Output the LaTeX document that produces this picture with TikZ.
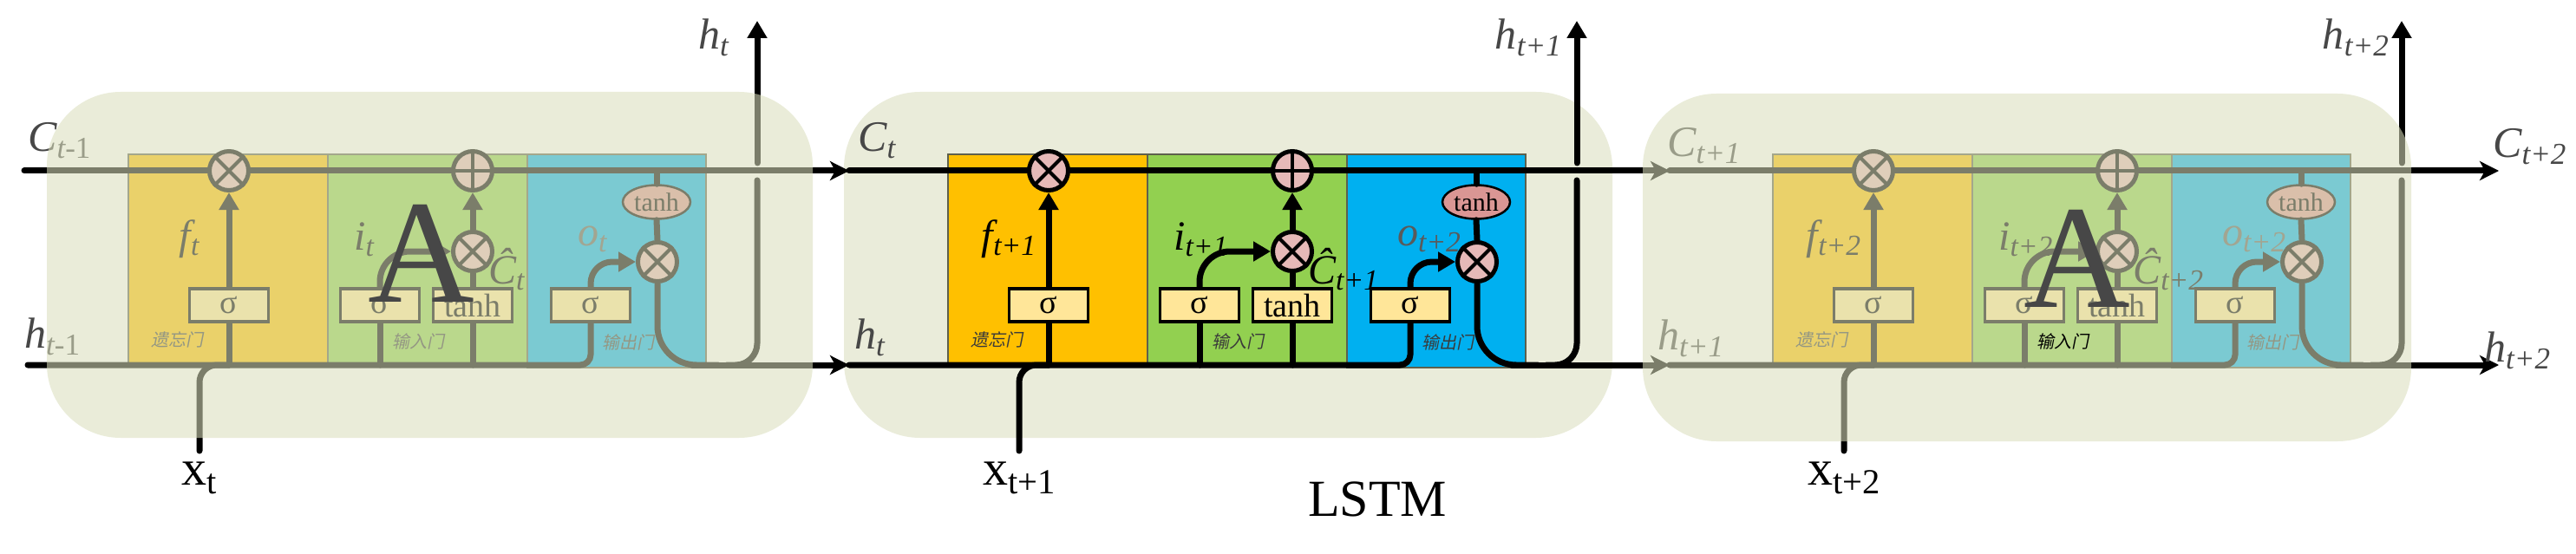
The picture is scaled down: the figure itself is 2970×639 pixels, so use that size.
\documentclass[tikz,border=0pt]{standalone}
\usepackage{fontspec}
\setmainfont{Liberation Serif}
\newfontfamily\cjk[FakeSlant=0.2]{Noto Sans CJK SC}
\usetikzlibrary{positioning,arrows.meta,shapes.geometric}

\definecolor{forgetc}{HTML}{FFC000}
\definecolor{inputc}{HTML}{92D050}
\definecolor{outputc}{HTML}{00B0F0}
\definecolor{boxc}{HTML}{FFE699}
\definecolor{opc}{HTML}{E6B9B8}
\definecolor{actc}{HTML}{DA9694}
\definecolor{panelc}{HTML}{EAECDA}
\definecolor{fogc}{HTML}{DADFBC}
\definecolor{labc}{HTML}{474747}
\definecolor{ocolc}{HTML}{5A5A5A}
\definecolor{gnamec}{HTML}{3A3A3A}
\definecolor{edgec}{HTML}{5E604C}

\newcommand{\lsub}[1]{\raisebox{-0.16em}{\scalebox{0.7}{#1}}}

% one LSTM cell: prefix, x shift, f/i/C/o subscripts, input gate name, in/out index
\newcommand{\lstmcell}[9]{%
  \begin{scope}[shift={(#2,0)}]
    \draw[gate, fill=forgetc] (0,178) rectangle (230,421);
    \draw[gate, fill=inputc] (230,178) rectangle (460,421);
    \draw[gate, fill=outputc] (460,178) rectangle (666,424);
    \draw[line, stip] (c#8) -- (c#9);
    \coordinate (#1hb) at (0,421);
    \coordinate (#1xb) at (82,520);
    \node[op] (#1fx) at (116,197) {};
    \node[op] (#1add) at (397,197) {};
    \node[op] (#1ix) at (397,290) {};
    \node[op] (#1ox) at (610,302) {};
    \node[act] (#1th) at (609,233) {tanh};
    \node[sbox] (#1fs) at (116,352) {σ};
    \node[sbox] (#1is) at (290,352) {σ};
    \node[sbox] (#1ts) at (397,352) {tanh};
    \node[sbox] (#1os) at (533,352) {σ};
    \draw[cross] (#1fx.45) -- (#1fx.225) (#1fx.135) -- (#1fx.-45);
    \draw[cross] (#1ix.45) -- (#1ix.225) (#1ix.135) -- (#1ix.-45);
    \draw[cross] (#1ox.45) -- (#1ox.225) (#1ox.135) -- (#1ox.-45);
    \draw[cross] (#1add.north) -- (#1add.south) (#1add.east) -- (#1add.west);
    % hidden state in, input x
    \draw[line, rounded corners=12] (h#8) -| (#1os.south);
    \draw[line, rounded corners=20] (#1xb) |- (#1fs.south |- #1hb);
    \draw[line] (#1fs.south) -- (#1fs.south |- #1hb);
    \draw[line] (#1is.south) -- (#1is.south |- #1hb);
    \draw[line] (#1ts.south) -- (#1ts.south |- #1hb);
    % gates
    \draw[line, tip] (#1fs.north) -- (#1fx.south);
    \draw[line] (#1ts.north) -- (#1ix.south);
    \draw[line, tip] (#1ix.north) -- (#1add.south);
    \draw[line, tip, rounded corners=35] (#1is.north) |- (#1ix.west);
    \draw[line, tip, rounded corners=25] (#1os.north) |- (#1ox.west);
    \draw[line] (#1th.north) -- (#1th.north |- #1add);
    \draw[line] (#1th.south) -- (#1ox.north);
    % output
    \draw[line, rounded corners=45] (#1ox.south) |- (680,421);
    \draw[line, stip] (650,421) -- (h#9);
    \draw[line, rounded corners=25] (690,421) -| (725,208);
    \coordinate (#1up) at (725,24);
    \draw[line, tip] (725,188) -- (#1up);
    % labels
    \node[glbl, anchor=base] (#1fl) at (70,287) {f\lsub{#3}};
    \node[glbl, anchor=base west] (#1il) at (260,288) {i\lsub{#4}};
    \node[glbl, anchor=base west] (#1cl) at (415,327) {Ĉ\lsub{#5}};
    \node[glbl, text=ocolc, anchor=base west] (#1ol) at (518,283) {o\lsub{#6}};
    \node[gname] (#1g1) at (56,392) {遗忘门};
    \node[gname] (#1g2) at (334,394) {#7};
    \node[gname] (#1g3) at (576,395) {输出门};
  \end{scope}}

\begin{document}
\begin{tikzpicture}[x=1pt, y=-1pt, line cap=round,
    line/.style={line width=7pt},
    cross/.style={line width=4pt, line cap=butt},
    tip/.style={-{Triangle[length=20pt,width=22pt]}},
    stip/.style={-{Stealth[length=22pt,width=22pt,inset=6pt]}},
    gate/.style={draw=edgec, line width=1.2pt},
    sbox/.style={draw, line width=3.5pt, fill=boxc, minimum width=91pt,
                 minimum height=38pt, inner sep=0, font=\fontsize{38}{38}\selectfont},
    op/.style={circle, draw, line width=5pt, fill=opc, minimum size=45pt, inner sep=0},
    act/.style={ellipse, draw, line width=2.5pt, fill=actc, minimum width=78pt,
                minimum height=39pt, inner sep=0, font=\fontsize{30}{30}\selectfont},
    glbl/.style={font=\fontsize{48}{48}\selectfont\itshape, inner sep=0},
    gname/.style={font=\fontsize{20}{20}\cjk, text=gnamec, inner sep=0},
    vlbl/.style={font=\fontsize{50}{50}\selectfont\itshape, text=labc, inner sep=0},
    xlbl/.style={font=\fontsize{58}{58}\selectfont, inner sep=0},
    biga/.style={font=\fontsize{170}{170}\selectfont, text=labc, inner sep=0},
    fog/.style={fill=fogc, fill opacity=0.565, rounded corners=85},
  ]
  \useasboundingbox (0,0) rectangle (2970,639);
  \fill[white] (0,0) rectangle (2970,639);

  \coordinate (c0) at (28,197);   \coordinate (h0) at (32,421);
  \coordinate (c1) at (979,197);  \coordinate (h1) at (979,421);
  \coordinate (c2) at (1925,197); \coordinate (h2) at (1925,421);
  \coordinate (c3) at (2881,197); \coordinate (h3) at (2881,421);

  \fill[panelc, rounded corners=88] (973,106) rectangle (1859,505);

  \lstmcell{L}{148}{t}{t}{t}{t}{输入门}{0}{1}
  \lstmcell{M}{1093}{t+1}{t+1}{t+1}{t+2}{输入门}{1}{2}
  \lstmcell{R}{2044}{t+2}{t+2}{t+2}{t+2}{}{2}{3}

  % states and inputs
  \node[vlbl, anchor=base west] (cl0) at (32,175) {C\lsub{t\upshape -1}};
  \node[vlbl, anchor=base west] (hl0) at (28,401) {h\lsub{t\upshape -1}};
  \node[vlbl, anchor=base west] (cl1) at (989,175) {C\lsub{t}};
  \node[vlbl, anchor=base west] (hl1) at (985,402) {h\lsub{t}};
  \node[vlbl, anchor=base west] (cl2) at (1922,181) {C\lsub{t+1}};
  \node[vlbl, anchor=base west] (hl2) at (1911,403) {h\lsub{t+1}};
  \node[vlbl, anchor=base west] (cl3) at (2874,182) {C\lsub{t+2}};
  \node[vlbl, anchor=base west] (hl3) at (2864,417) {h\lsub{t+2}};
  \node[vlbl, anchor=base east] (Lhl) at ([xshift=-33pt, yshift=-33pt]Lup) {h\lsub{t}};
  \node[vlbl, anchor=base east] (Mhl) at ([xshift=-18pt, yshift=-33pt]Mup) {h\lsub{t+1}};
  \node[vlbl, anchor=base east] (Rhl) at ([xshift=-15pt, yshift=-33pt]Rup) {h\lsub{t+2}};
  \node[xlbl, below=13pt of Lxb] (Lx) {x\lsub{t}};
  \node[xlbl, below=13pt of Mxb] (Mx) {x\lsub{t+1}};
  \node[xlbl, below=13pt of Rxb] (Rx) {x\lsub{t+2}};
  \node[font=\fontsize{60}{60}\selectfont, inner sep=0] (title) at (1588,576) {LSTM};

  \fill[fog] (54,106) rectangle (937,505);
  \fill[fog] (1894,108) rectangle (2780,509);

  \node[biga, anchor=base] (LA) at (486,348) {A};
  \node[biga, anchor=base] (RA) at (2395,354) {A};
  \node[gname, text=black] (Rg2b) at ([xshift=334pt]2044,394) {输入门};
\end{tikzpicture}
\end{document}
